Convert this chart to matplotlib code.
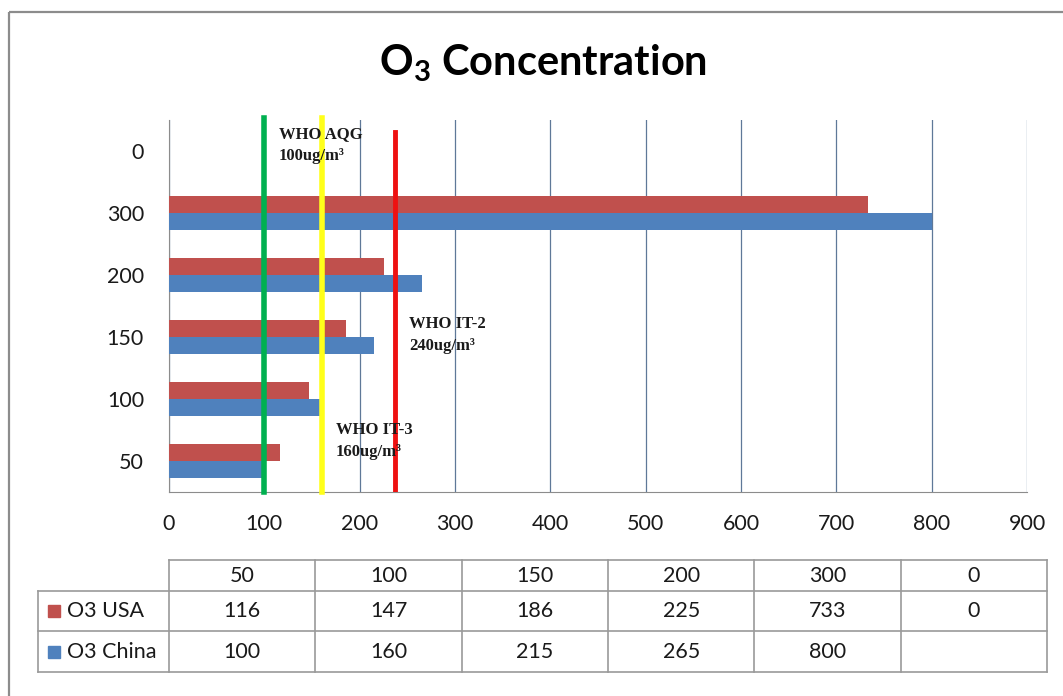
import matplotlib.pyplot as plt
from matplotlib.patches import Rectangle

plt.rcParams['font.family'] = ['Lato', 'DejaVu Sans']
plt.rcParams['mathtext.fontset'] = 'custom'
plt.rcParams['mathtext.bf'] = 'Lato:bold'

categories = ['50', '100', '150', '200', '300', '0']
usa = [116, 147, 186, 225, 733, 0]
china = [100, 160, 215, 265, 800, None]
xticks = [0, 100, 200, 300, 400, 500, 600, 700, 800, 900]

# WHO guideline lines
who_aqg = 100
who_it3 = 160
who_it2 = 237

RED = '#C0504D'
BLUE = '#4F81BD'

W, H = 1063, 696
fig = plt.figure(figsize=(W / 100, H / 100), dpi=100)

# overlay in pixel coords for frame + data table
ov = fig.add_axes([0, 0, 1, 1])
ov.set_xlim(0, W)
ov.set_ylim(H, 0)
ov.axis('off')
ov.add_patch(Rectangle((9, 12), W + 20, H + 20, fill=False, ec='#8C8C8C', lw=1.6))

ax = fig.add_axes([169 / W, 1 - 492 / H, (1027 - 169) / W, (492 - 120) / H])
ax.set_zorder(2)
ax.patch.set_alpha(0)

pos = list(range(len(categories)))
bh = 0.28
usa_vals = [v if v is not None else 0 for v in usa]
china_vals = [v if v is not None else 0 for v in china]
ax.barh([p + bh / 2 for p in pos], usa_vals, height=bh, color=RED, zorder=3)
ax.barh([p - bh / 2 for p in pos], china_vals, height=bh, color=BLUE, zorder=3)

ax.set_xlim(0, 900)
ax.set_ylim(-0.5, len(categories) - 0.5)
ax.set_xticks(xticks)
ax.set_yticks(pos)
ax.set_yticklabels(categories)
ax.tick_params(axis='both', length=0, labelsize=15.5, colors='#1a1a1a')
ax.tick_params(axis='y', pad=18)
ax.tick_params(axis='x', pad=16)
ax.grid(axis='x', color='#5F7898', lw=0.9, zorder=1)
for s in ['top', 'right']:
    ax.spines[s].set_visible(False)
ax.spines['left'].set_color('#8C8C8C')
ax.spines['bottom'].set_color('#8C8C8C')

ax.axvline(who_aqg, ymin=0, ymax=1.005, color='#00B050', lw=4, zorder=4, clip_on=False)
ax.axvline(who_it3, ymin=0, ymax=1.005, color='#FFFF1A', lw=4, zorder=4, clip_on=False)
ax.axvline(who_it2, ymin=0, ymax=0.968, color='#EE1111', lw=3.5, zorder=4)

ann = dict(fontsize=12, fontweight='bold', color='#1a1a1a', va='center', ha='left',
           linespacing=1.5, zorder=5, family=['Liberation Serif', 'DejaVu Serif'])
ax.text(115, 5.10, 'WHO AQG\n100ug/m³', **ann)
ax.text(252, 2.04, 'WHO IT-2\n240ug/m³', **ann)
ax.text(175, 0.33, 'WHO IT-3\n160ug/m³', **ann)

fig.text(543 / W, 1 - 63 / H, r'$\mathbf{O_3}$ Concentration', fontsize=30,
         fontweight='bold', ha='center', va='center')

# data table under the chart
gc = '#9A9A9A'
tx0, tx1 = 169, 1047
lx = 38
rows_y = [560, 591, 631, 672]
ncol = len(categories)
cw = (tx1 - tx0) / ncol
ov.plot([tx0, tx1], [rows_y[0]] * 2, color=gc, lw=1.2)
for y in rows_y[1:]:
    ov.plot([lx, tx1], [y, y], color=gc, lw=1.2)
ov.plot([lx, lx], [rows_y[1], rows_y[3]], color=gc, lw=1.2)
for i in range(ncol + 1):
    x = tx0 + i * cw
    ov.plot([x, x], [rows_y[0], rows_y[3]], color=gc, lw=1.2)

def row_text(vals, r):
    yc = (rows_y[r] + rows_y[r + 1]) / 2
    for i, v in enumerate(vals):
        if v is None:
            continue
        ov.text(tx0 + (i + 0.5) * cw, yc, str(v), ha='center', va='center',
                fontsize=15.5, color='#1a1a1a')

row_text(categories, 0)
row_text(usa, 1)
row_text(china, 2)

for r, (name, c) in enumerate([('O3 USA', RED), ('O3 China', BLUE)], start=1):
    yc = (rows_y[r] + rows_y[r + 1]) / 2
    ov.add_patch(Rectangle((48, yc - 6), 12, 12, color=c))
    ov.text(67, yc, name, ha='left', va='center', fontsize=15.5, color='#1a1a1a')

plt.savefig('out.png', dpi=100)
